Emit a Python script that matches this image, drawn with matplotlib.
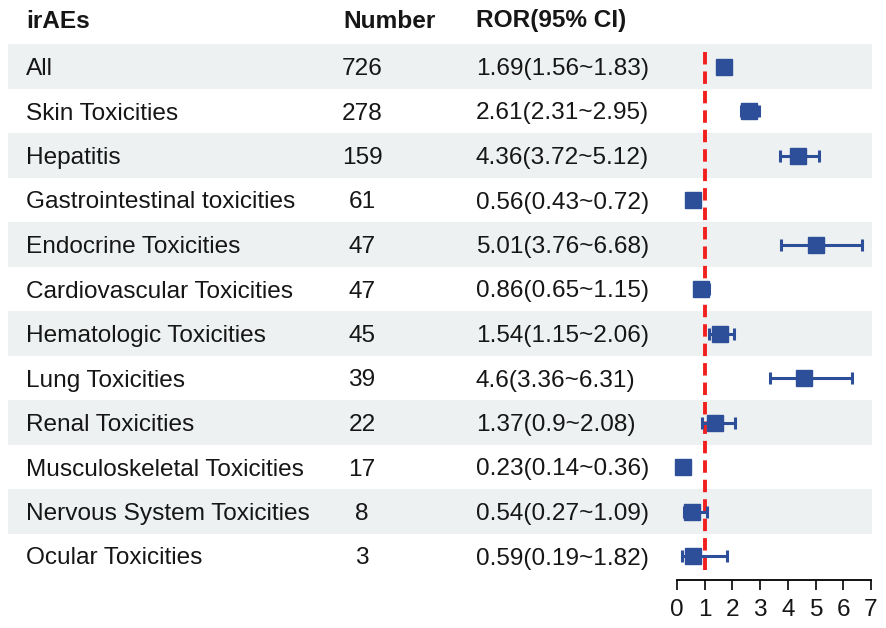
import matplotlib.pyplot as plt
from matplotlib.patches import Rectangle

plt.rcParams['font.family'] = ['Liberation Sans', 'DejaVu Sans']

# data
iraes = ["All", "Skin Toxicities", "Hepatitis", "Gastrointestinal toxicities",
         "Endocrine Toxicities", "Cardiovascular Toxicities", "Hematologic Toxicities",
         "Lung Toxicities", "Renal Toxicities", "Musculoskeletal Toxicities",
         "Nervous System Toxicities", "Ocular Toxicities"]
number = [726, 278, 159, 61, 47, 47, 45, 39, 22, 17, 8, 3]
ror = [1.69, 2.61, 4.36, 0.56, 5.01, 0.86, 1.54, 4.6, 1.37, 0.23, 0.54, 0.59]
lower = [1.56, 2.31, 3.72, 0.43, 3.76, 0.65, 1.15, 3.36, 0.9, 0.14, 0.27, 0.19]
upper = [1.83, 2.95, 5.12, 0.72, 6.68, 1.15, 2.06, 6.31, 2.08, 0.36, 1.09, 1.82]
xticks = [0, 1, 2, 3, 4, 5, 6, 7]

W, H = 886, 628
fig = plt.figure(figsize=(W / 100, H / 100), dpi=100)

# table layer in pixel coords
tab = fig.add_axes([0, 0, 1, 1])
tab.set_xlim(0, W)
tab.set_ylim(H, 0)
tab.axis('off')

y0 = 66.5   # centre of first row
dy = 44.5   # row height
fs = 17.6
col_txt = '#161616'

tab.text(26, 21, "irAEs", fontsize=fs, fontweight='bold', va='center', color=col_txt)
tab.text(343, 21, "Number", fontsize=fs, fontweight='bold', va='center', color=col_txt)
tab.text(476, 21, "ROR(95% CI)", fontsize=fs, fontweight='bold', va='center', color=col_txt)

for i in range(len(iraes)):
    yc = y0 + dy * i
    if i % 2 == 0:
        tab.add_patch(Rectangle((8, yc - dy / 2), 864, dy, color='#EEF1F1', lw=0, zorder=0))
    yt = yc + 2.5
    tab.text(26, yt, iraes[i], fontsize=fs, va='center', color=col_txt)
    tab.text(362, yt, str(number[i]), fontsize=fs, va='center', ha='center', color=col_txt)
    tab.text(476, yt, f"{ror[i]:g}({lower[i]:g}~{upper[i]:g})", fontsize=fs,
             va='center', color=col_txt)

# forest panel
x_l, x_r, top, bot = 677, 871, 44, 580
ax = fig.add_axes([x_l / W, (H - bot) / H, (x_r - x_l) / W, (bot - top) / H])
ax.patch.set_visible(False)
ax.set_xlim(0, 7)
ax.set_ylim((bot - y0) / dy, (top - y0) / dy)
for s in ['top', 'right', 'left']:
    ax.spines[s].set_visible(False)
ax.spines['bottom'].set_linewidth(1.3)
ax.set_yticks([])
ax.set_xticks(xticks)
ax.tick_params(axis='x', direction='out', length=7.5, width=1.3, labelsize=fs,
               pad=6, colors=col_txt)

rows = list(range(len(iraes)))
ax.plot([1, 1], [(52 - y0) / dy, (577 - y0) / dy], color='#F21F1F', lw=2.8,
        ls=(0, (3.2, 1.8)), zorder=1, clip_on=False)
ax.errorbar(ror, rows,
            xerr=[[r - l for r, l in zip(ror, lower)], [u - r for r, u in zip(ror, upper)]],
            fmt='s', color='#2D4E98', ms=12, elinewidth=2.2, capsize=4.2, capthick=2.2,
            zorder=3, clip_on=False)

fig.savefig('out.png', dpi=100)
